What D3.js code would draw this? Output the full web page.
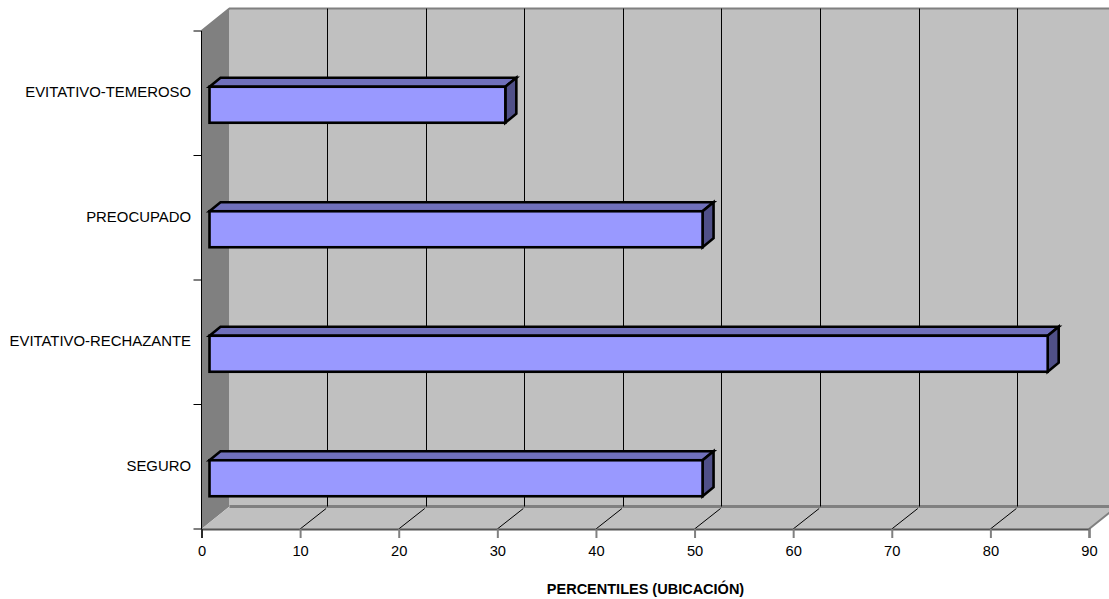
<!DOCTYPE html>
<html>
<head>
<meta charset="utf-8">
<script src="https://cdn.jsdelivr.net/npm/d3@7"></script>
<style>
html, body { margin: 0; padding: 0; background: #fff; }
text { font-family: "Liberation Sans", Arial, sans-serif; fill: #000; }
</style>
</head>
<body>
<div id="chart"></div>
<script>
const categories = ["EVITATIVO-TEMEROSO", "PREOCUPADO", "EVITATIVO-RECHAZANTE", "SEGURO"];
const values = [30, 50, 85, 50];
const xTicks = [0, 10, 20, 30, 40, 50, 60, 70, 80, 90];
const xTitle = "PERCENTILES (UBICACIÓN)";

// front plane of the 3d box, and how far back the wall sits
const plotLeft = 201.5, plotRight = 1089, plotTop = 31, plotBottom = 529;
const depthX = 28, depthY = -22.5;

const svg = d3.select("#chart").append("svg")
    .attr("width", 1109)
    .attr("height", 599)
    .style("display", "block");

const x = d3.scaleLinear().domain([0, 90]).range([plotLeft, plotRight]);
const y = d3.scaleBand().domain(categories).range([plotTop, plotBottom]);

const poly = pts => pts.map(p => p.join(",")).join(" ");

// side wall
svg.append("polygon")
    .attr("points", poly([[plotLeft, plotTop], [plotLeft + depthX, plotTop + depthY], [plotLeft + depthX, plotBottom + depthY], [plotLeft, plotBottom]]))
    .attr("fill", "#808080");

// back wall
svg.append("rect")
    .attr("x", plotLeft + depthX)
    .attr("y", plotTop + depthY)
    .attr("width", plotRight - plotLeft)
    .attr("height", plotBottom - plotTop)
    .attr("fill", "#c0c0c0");

// floor
svg.append("polygon")
    .attr("points", poly([[plotLeft, plotBottom], [plotLeft + depthX, plotBottom + depthY], [plotRight + depthX, plotBottom + depthY], [plotRight, plotBottom]]))
    .attr("fill", "#c0c0c0");

// grey edges of the walls
svg.append("path")
    .attr("d", `M${plotLeft},${plotTop}L${plotLeft + depthX},${plotTop + depthY}H${plotRight + depthX}`)
    .attr("fill", "none")
    .attr("stroke", "#808080")
    .attr("stroke-width", 2);
svg.append("path")
    .attr("d", `M${plotLeft + depthX},${plotBottom + depthY}H${plotRight + depthX}`)
    .attr("fill", "none")
    .attr("stroke", "#808080")
    .attr("stroke-width", 3);
svg.append("path")
    .attr("d", `M${plotRight},${plotBottom}L${plotRight + depthX},${plotBottom + depthY}`)
    .attr("fill", "none")
    .attr("stroke", "#808080")
    .attr("stroke-width", 2);

// gridlines, down the back wall then across the floor
const inner = xTicks.filter(d => d > 0 && d < 90);
svg.append("g").selectAll("path")
    .data(inner)
    .join("path")
    .attr("d", d => `M${Math.floor(x(d) + depthX - 0.7) + 0.5},${plotTop + depthY}V${plotBottom + depthY}`)
    .attr("fill", "none")
    .attr("stroke", "#000")
    .attr("stroke-width", 1);
svg.append("g").selectAll("line")
    .data(inner)
    .join("line")
    .attr("x1", d => x(d))
    .attr("y1", plotBottom)
    .attr("x2", d => x(d) + depthX - 2)
    .attr("y2", plotBottom + depthY + 2)
    .attr("stroke", "#000")
    .attr("stroke-width", 1);

// x axis
const xAxis = svg.append("g")
    .attr("transform", `translate(0,${plotBottom})`)
    .call(d3.axisBottom(x).tickValues(xTicks).tickSize(9).tickPadding(8));
xAxis.select(".domain").attr("stroke", "#555").attr("stroke-width", 2);
xAxis.selectAll("line").attr("stroke", "#808080").attr("stroke-width", 2);
xAxis.select("g.tick line").attr("stroke", "#000").attr("stroke-width", 1);
xAxis.selectAll("text")
    .style("font-family", '"Liberation Sans", Arial, sans-serif')
    .style("font-size", "14.7px")
    .attr("fill", "#000");

// y axis line and ticks sit on the category band edges
svg.append("line")
    .attr("x1", plotLeft).attr("y1", plotTop)
    .attr("x2", plotLeft).attr("y2", plotBottom)
    .attr("stroke", "#000");
const edges = categories.map(c => y(c)).concat([plotBottom]);
svg.append("g").selectAll("line")
    .data(edges)
    .join("line")
    .attr("x1", plotLeft - 8)
    .attr("x2", plotLeft)
    .attr("y1", d => d)
    .attr("y2", d => d)
    .attr("stroke", "#000");

const yAxis = svg.append("g")
    .attr("transform", `translate(${plotLeft},0)`)
    .call(d3.axisLeft(y).tickSize(0).tickPadding(10.5));
yAxis.select(".domain").remove();
yAxis.selectAll("text")
    .style("font-family", '"Liberation Sans", Arial, sans-serif')
    .style("font-size", "14.9px")
    .attr("fill", "#000")
    .attr("dy", "0.27em");

// bars
const barOffset = 8, barH = 36, topX = 11, topY = -9;
const bars = svg.append("g").selectAll("g")
    .data(categories)
    .join("g");
const barY = c => y(c) + y.bandwidth() / 2 - barH / 2 + 11.5;
const barEnd = (c, i) => x(values[i]) + barOffset;

bars.append("polygon")
    .attr("points", (c, i) => poly([
        [plotLeft + barOffset, barY(c)],
        [plotLeft + barOffset + topX, barY(c) + topY],
        [barEnd(c, i) + topX, barY(c) + topY],
        [barEnd(c, i), barY(c)]
    ]))
    .attr("fill", "#7070bb");
bars.append("polygon")
    .attr("points", (c, i) => poly([
        [barEnd(c, i), barY(c)],
        [barEnd(c, i) + topX, barY(c) + topY],
        [barEnd(c, i) + topX, barY(c) + topY + barH],
        [barEnd(c, i), barY(c) + barH]
    ]))
    .attr("fill", "#505088");
bars.append("rect")
    .attr("x", plotLeft + barOffset)
    .attr("y", c => barY(c))
    .attr("width", (c, i) => barEnd(c, i) - plotLeft - barOffset)
    .attr("height", barH)
    .attr("fill", "#9999ff");
bars.selectAll("polygon, rect")
    .attr("stroke", "#000")
    .attr("stroke-width", 2.6)
    .attr("stroke-linejoin", "miter");

svg.append("text")
    .attr("x", 645.5)
    .attr("y", 594)
    .attr("text-anchor", "middle")
    .style("font-size", "14.5px")
    .style("font-weight", "bold")
    .text(xTitle);
</script>
</body>
</html>
